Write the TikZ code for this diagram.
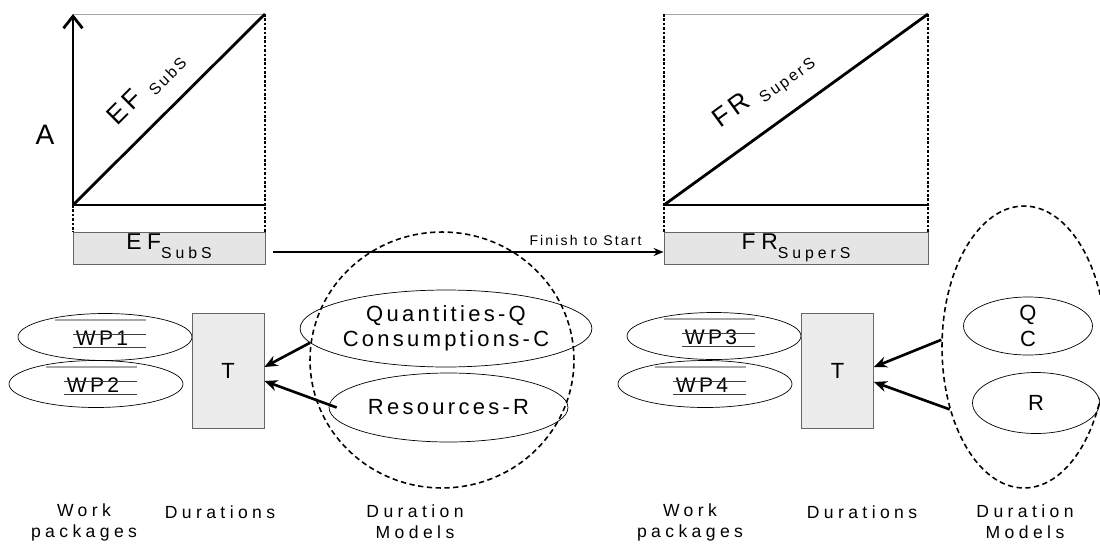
\documentclass[tikz,border=0pt]{standalone}
\usepackage{fontspec}
\setmainfont{Liberation Sans}
\newfontfamily\widefont[LetterSpace=15]{Liberation Sans}
\newfontfamily\widerfont[LetterSpace=25]{Liberation Sans}
\usetikzlibrary{arrows.meta,shapes.geometric}

\NewDocumentCommand{\lowsub}{O{3pt}O{8}m}{\raisebox{-#1}{\fontsize{#2}{9}\selectfont#3}}

\tikzset{
  thick line/.style={line width=1.6pt},
  thin gray/.style={draw=gray!70, line width=0.5pt},
  dotted edge/.style={dash pattern=on 1.5pt off 1pt, line width=0.7pt},
  bar/.style={draw=gray!80!black, fill=gray!20, line width=0.5pt, minimum height=0.64cm,
    inner sep=0pt, text height=1.8pt, text depth=0pt, font=\widerfont\fontsize{13}{15}\selectfont},
  tbox/.style={draw=gray!80!black, fill=gray!15, line width=0.5pt, minimum width=1.44cm,
    minimum height=2.3cm, inner sep=0pt, font=\fontsize{12.5}{14}\selectfont},
  wpell/.style={ellipse, draw, line width=0.4pt, minimum width=3.48cm, minimum height=0.94cm, inner sep=0pt},
  modell/.style={ellipse, draw, line width=0.4pt, inner sep=0pt, align=center,
    font=\widefont\fontsize{12.5}{14.5}\selectfont},
  group/.style={ellipse, draw, dash pattern=on 3pt off 2pt, line width=0.9pt, inner sep=0pt},
  conn/.style={line width=1.5pt, -{Stealth[length=2.6mm,width=2.2mm]}},
  caption/.style={align=center, font=\widerfont\fontsize{10}{12}\selectfont},
}

\NewDocumentCommand{\wpcell}{mmm}{%
\node[wpell] (#1) at (#2) {};
\begin{scope}[shift={(#2)}]%
\node[font=\widefont\fontsize{12}{14}\selectfont] (#1t) at (-3,1) {#3};
\draw[gray!70, line width=0.6pt] (-50,-17) -- (41,-17);
\draw[black!75, line width=0.5pt] (-32,-3) -- (41,-3);
\draw[black!75, line width=0.5pt] (-32,10.5) -- (41,10.5);
\end{scope}%
}

\begin{document}
\begin{tikzpicture}[x=0.02cm, y=-0.02cm]
        \useasboundingbox (0,0) rectangle (1100,545);

        % EF chart
        \coordinate (efo) at (73,205);
        \coordinate (eftr) at (265,14);
        \draw[thin gray] (73,14) -- (eftr);
        \draw[dotted edge] (eftr) -- (265,232);
        \draw[dotted edge] (efo) -- (73,232);
        \draw[thick line] (efo) -- (265,205);
        \draw[thick line] (efo) -- (eftr);
        \draw[thick line, -{Straight Barb[length=2.4mm,width=3.8mm]}] (efo) -- (73,14);
        \node[rotate=45, font=\widefont\fontsize{15}{17}\selectfont] (eflbl) at (146,89) {EF \lowsub[3pt][9]{SubS}};
        \node[font=\fontsize{16}{18}\selectfont] (A) at (45,135) {A};

        % FR chart
        \coordinate (fro) at (664,205);
        \coordinate (frtr) at (928,14);
        \draw[thin gray] (664,14) -- (frtr);
        \draw[dotted edge] (frtr) -- (928,232);
        \draw[dotted edge] (664,14) -- (664,232);
        \draw[thick line] (fro) -- (928,205);
        \draw[thick line] (fro) -- (frtr);
        \node[rotate=36, font=\widefont\fontsize{15}{17}\selectfont] (frlbl) at (764,91) {FR \lowsub[3pt][9]{SuperS}};

        % bars and link
        \node[bar, minimum width=3.84cm] (efbar) at (169,248) {EF\lowsub[5pt][9]{SubS}};
        \node[bar, minimum width=5.28cm] (frbar) at (796,248) {FR\lowsub[5pt][9]{SuperS}};
        \draw[line width=1.1pt, -{Stealth[length=2mm,width=1.6mm]}] ([xshift=0.16cm,yshift=-0.08cm]efbar.east)
            -- ([yshift=-0.08cm]frbar.west)
            node[pos=0.8, above=0pt, font=\widefont\fontsize{8}{9}\selectfont] (fts) {Finish to Start};

        % left work packages
        \wpcell{wp1}{105,337}{WP1}
        \wpcell{wp2}{96,384}{WP2}
        \node[tbox] (t1) at (228,370.5) {T};
        \node[modell, minimum width=5.12cm, minimum height=1.54cm] (qc1) at (446,328.5) {Quantities-Q\\Consumptions-C};
        \node[modell, minimum width=4.78cm, minimum height=1.38cm] (res1) at (448.5,407.5) {Resources-R};
        \node[group, minimum width=5.28cm, minimum height=5.12cm] (dm1) at (442,360) {};
        \draw[conn] (qc1.186) -- ([yshift=0.07cm]t1.east);
        \draw[conn] ([xshift=0.16cm]res1.west) -- ([yshift=-0.21cm]t1.east);

        % right work packages
        \wpcell{wp3}{714,336}{WP3}
        \wpcell{wp4}{705,384}{WP4}
        \node[tbox] (t2) at (837.5,370.5) {T};
        \node[modell, minimum width=2.58cm, minimum height=1.08cm] (qc2) at (1028,326) {Q\\C};
        \node[modell, minimum width=2.54cm, minimum height=1.22cm] (res2) at (1036,403) {R};
        \node[group, minimum width=3.28cm, minimum height=5.64cm] (dm2) at (1024,347) {};
        \draw[conn] (dm2.175) -- ([yshift=0.07cm]t2.east);
        \draw[conn] (dm2.220) -- ([yshift=-0.23cm]t2.east);

        % captions
        \node[caption] (cap1) at (84,522) {Work\\packages};
        \node[caption] (cap2) at (220,512) {Durations};
        \node[caption] (cap3) at (415,522) {Duration\\Models};
        \node[caption] (cap4) at (690,522) {Work\\packages};
        \node[caption] (cap5) at (862,512) {Durations};
        \node[caption] (cap6) at (1025,522) {Duration\\Models};
\end{tikzpicture}
\end{document}
